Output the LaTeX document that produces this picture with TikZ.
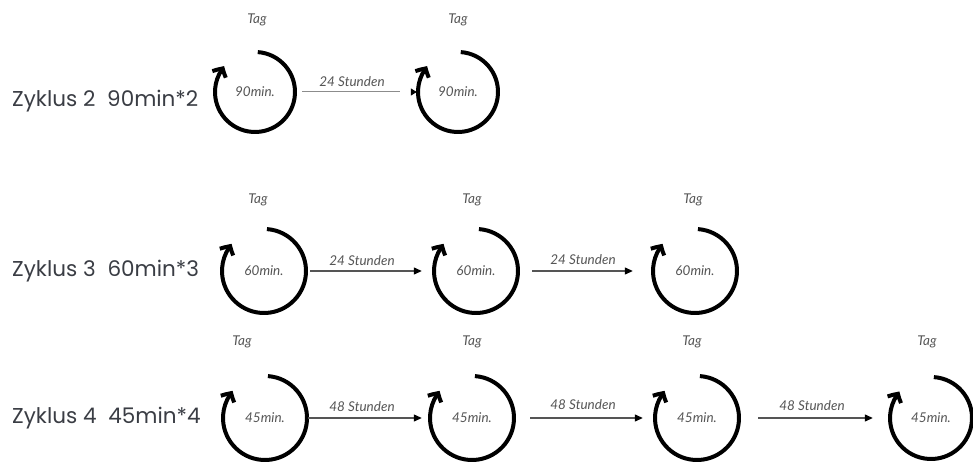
\documentclass[tikz,border=0pt]{standalone}
\usepackage{fontspec}
\setmainfont{Poppins}
\newfontfamily\handfont{Lato}
\usetikzlibrary{arrows.meta,bending}
\definecolor{labelc}{HTML}{3A3D44}
\definecolor{handc}{HTML}{555555}
\definecolor{linec}{HTML}{555555}
\tikzset{
  rowlabel/.style={anchor=west, text=labelc, font=\fontsize{21.5}{24}\selectfont, inner sep=0pt},
  handtext/.style={text=handc, font=\handfont\itshape\fontsize{13.5}{15}\selectfont, inner sep=0pt},
  ringnode/.style={circle, inner sep=0pt, handtext},
  ringarc/.style={line width=4pt, black, -{Straight Barb[length=7pt,width=15pt,bend]}},
  conn/.style={draw=linec, line width=1.2pt, -{Triangle[length=8pt,width=7pt,color=black]}},
  connA/.style={draw=black!45, line width=1pt, dash pattern=on 98pt off 30pt, -{Triangle[length=6pt,width=7pt,color=black]}},
}
\newcommand\cycring[5]{% name, x, y, radius, text
  \node[ringnode, minimum size=2*#4pt] (#1) at (#2,#3) {#5};
  \draw[ringarc] (#1.center) ++(86:#4pt) arc[start angle=86, end angle=-220, radius=#4pt];
}
\begin{document}
\begin{tikzpicture}[x=1pt,y=-1pt]
\useasboundingbox (0,0) rectangle (973,462);
% row 1
\node[rowlabel] (z2) at (12,101) {Zyklus 2\hspace{0.55em}90min*2};
\cycring{c11}{255}{92}{40}{90min.}
\cycring{c12}{458}{92}{40}{90min.}
\node[handtext] (t11) at (257,20) {Tag};
\node[handtext] (t12) at (458,20) {Tag};
\draw[connA, shorten <=7pt, shorten >=1pt] (c11.east) -- (c12.west);
\node[handtext] (s11) at (352,82) {24 Stunden};
% row 2
\node[rowlabel] (z3) at (12,271) {Zyklus 3\hspace{0.55em}60min*3};
\cycring{c21}{264}{271}{42}{60min.}
\cycring{c22}{476}{271}{42}{60min.}
\cycring{c23}{695}{271}{42}{60min.}
\node[handtext] (t21) at (258,200) {Tag};
\node[handtext] (t22) at (472,200) {Tag};
\node[handtext] (t23) at (693,200) {Tag};
\draw[conn, shorten <=4pt, shorten >=12pt] (c21.east) -- (c22.west);
\draw[conn, shorten <=14pt, shorten >=20pt] (c22.east) -- (c23.west);
\node[handtext] (s21) at (362,261) {24 Stunden};
\node[handtext] (s22) at (583,260) {24 Stunden};
% row 3
\node[rowlabel] (z4) at (12,418) {Zyklus 4\hspace{0.55em}45min*4};
\cycring{c31}{265}{418}{42}{45min.}
\cycring{c32}{472}{418}{42}{45min.}
\cycring{c33}{697}{418}{42}{45min.}
\cycring{c34}{931}{418}{41}{45min.}
\node[handtext] (t31) at (242,342) {Tag};
\node[handtext] (t32) at (472,342) {Tag};
\node[handtext] (t33) at (692,342) {Tag};
\node[handtext] (t34) at (927,342) {Tag};
\draw[conn, shorten <=1pt, shorten >=8pt] (c31.east) -- (c32.west);
\draw[conn, shorten <=16pt, shorten >=12pt] (c32.east) -- (c33.west);
\draw[conn, shorten <=19pt, shorten >=17pt] (c33.east) -- (c34.west);
\node[handtext] (s31) at (362,407) {48 Stunden};
\node[handtext] (s32) at (583,405) {48 Stunden};
\node[handtext] (s33) at (812,406) {48 Stunden};
\end{tikzpicture}
\end{document}
